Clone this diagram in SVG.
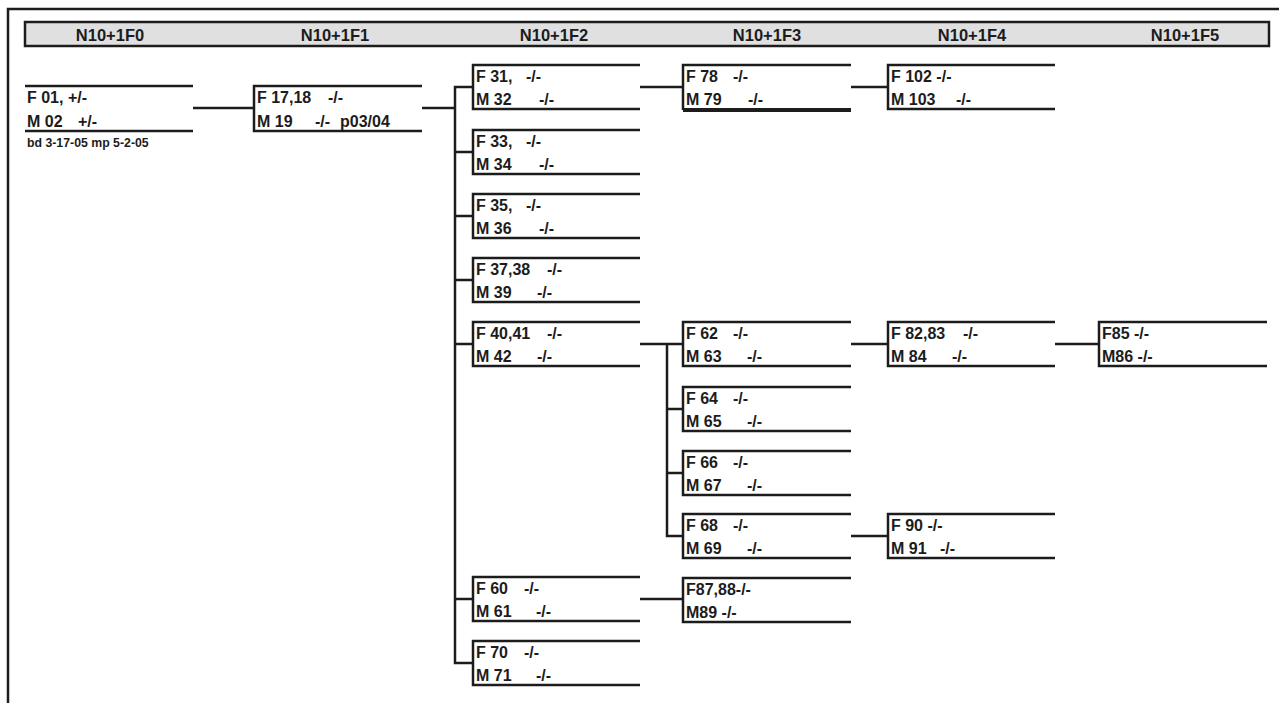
<svg xmlns="http://www.w3.org/2000/svg" width="1279" height="703" viewBox="0 0 1279 703">
<style>
.ln{fill:none;stroke:#1c1c1c;stroke-width:2.5}
.hd{font-family:"Liberation Sans",Arial,sans-serif;font-weight:bold;font-size:16.5px;fill:#1c1c1c;text-anchor:middle}
.t{font-family:"Liberation Sans",Arial,sans-serif;font-weight:bold;font-size:16px;fill:#1c1c1c}
.note{font-family:"Liberation Sans",Arial,sans-serif;font-weight:bold;font-size:12.3px;fill:#1c1c1c}
</style>
<rect x="0" y="0" width="1279" height="703" fill="#ffffff"/>
<g id="frame">
<path class="ln" d="M8,703 V9 H1279"/>
</g>
<g id="header">
<rect x="25" y="22" width="1244" height="24" fill="#e0e0e0" stroke="#1c1c1c" stroke-width="2.5"/>
<text class="hd" x="110" y="40.5">N10+1F0</text>
<text class="hd" x="335" y="40.5">N10+1F1</text>
<text class="hd" x="554" y="40.5">N10+1F2</text>
<text class="hd" x="767" y="40.5">N10+1F3</text>
<text class="hd" x="972" y="40.5">N10+1F4</text>
<text class="hd" x="1185" y="40.5">N10+1F5</text>
</g>
<g id="connectors" class="ln">
<path d="M193,108 H254"/>
<path d="M422,108 H455"/>
<path d="M473,87 H455 V663 H473"/>
<path d="M455,152 H473 M455,216 H473 M455,280 H473 M455,344 H473 M455,599 H473"/>
<path d="M640,87 H683"/>
<path d="M851,87 H888"/>
<path d="M640,344 H683"/>
<path d="M667,344 V536 H683 M667,409 H683 M667,473 H683"/>
<path d="M851,344 H888"/>
<path d="M1055,344 H1099"/>
<path d="M851,536 H888"/>
<path d="M640,599 H683"/>
</g>
<g id="n-f01">
<path class="ln" d="M25,86 H193 M25,131 H193"/>
<text class="t" x="27" y="103">F 01,<tspan x="68">+/-</tspan></text>
<text class="t" x="27" y="126.5">M 02<tspan x="78">+/-</tspan></text>
<text class="note" x="27" y="147">bd 3-17-05 mp 5-2-05</text>
</g>
<g id="n-f17">
<path class="ln" d="M422,86 H254 V131 H422"/>
<text class="t" x="257" y="103">F 17,18<tspan x="328">-/-</tspan></text>
<text class="t" x="257" y="126.5">M 19<tspan x="315">-/-</tspan><tspan x="340">p03/04</tspan></text>
</g>
<g id="n-f31">
<path class="ln" d="M640,65 H473 V109 H640"/>
<text class="t" x="476" y="81.5">F 31,<tspan x="526">-/-</tspan></text>
<text class="t" x="476" y="104.5">M 32<tspan x="539">-/-</tspan></text>
</g>
<g id="n-f33">
<path class="ln" d="M640,130 H473 V174 H640"/>
<text class="t" x="476" y="146.5">F 33,<tspan x="526">-/-</tspan></text>
<text class="t" x="476" y="169.5">M 34<tspan x="539">-/-</tspan></text>
</g>
<g id="n-f35">
<path class="ln" d="M640,194 H473 V238 H640"/>
<text class="t" x="476" y="210.5">F 35,<tspan x="526">-/-</tspan></text>
<text class="t" x="476" y="233.5">M 36<tspan x="539">-/-</tspan></text>
</g>
<g id="n-f37">
<path class="ln" d="M640,258 H473 V302 H640"/>
<text class="t" x="476" y="274.5">F 37,38<tspan x="547">-/-</tspan></text>
<text class="t" x="476" y="297.5">M 39<tspan x="537">-/-</tspan></text>
</g>
<g id="n-f40">
<path class="ln" d="M640,322 H473 V366 H640"/>
<text class="t" x="476" y="338.5">F 40,41<tspan x="547">-/-</tspan></text>
<text class="t" x="476" y="361.5">M 42<tspan x="537">-/-</tspan></text>
</g>
<g id="n-f60">
<path class="ln" d="M640,577 H473 V621 H640"/>
<text class="t" x="476" y="593.5">F 60<tspan x="524">-/-</tspan></text>
<text class="t" x="476" y="616.5">M 61<tspan x="536">-/-</tspan></text>
</g>
<g id="n-f70">
<path class="ln" d="M640,641 H473 V685 H640"/>
<text class="t" x="476" y="657.5">F 70<tspan x="524">-/-</tspan></text>
<text class="t" x="476" y="680.5">M 71<tspan x="536">-/-</tspan></text>
</g>
<g id="n-f78">
<path class="ln" d="M851,65 H683 V110"/>
<path fill="none" stroke="#1c1c1c" stroke-width="4" d="M683,110 H851"/>
<text class="t" x="686" y="81.5">F 78<tspan x="733">-/-</tspan></text>
<text class="t" x="686" y="104.5">M 79<tspan x="748">-/-</tspan></text>
</g>
<g id="n-f102">
<path class="ln" d="M1055,65 H888 V109 H1055"/>
<text class="t" x="891" y="81.5">F 102 -/-</text>
<text class="t" x="891" y="104.5">M 103<tspan x="956">-/-</tspan></text>
</g>
<g id="n-f62">
<path class="ln" d="M851,322 H683 V366 H851"/>
<text class="t" x="686" y="338.5">F 62<tspan x="733">-/-</tspan></text>
<text class="t" x="686" y="361.5">M 63<tspan x="747">-/-</tspan></text>
</g>
<g id="n-f64">
<path class="ln" d="M851,387 H683 V431 H851"/>
<text class="t" x="686" y="403.5">F 64<tspan x="733">-/-</tspan></text>
<text class="t" x="686" y="426.5">M 65<tspan x="747">-/-</tspan></text>
</g>
<g id="n-f66">
<path class="ln" d="M851,451 H683 V495 H851"/>
<text class="t" x="686" y="467.5">F 66<tspan x="733">-/-</tspan></text>
<text class="t" x="686" y="490.5">M 67<tspan x="747">-/-</tspan></text>
</g>
<g id="n-f68">
<path class="ln" d="M851,514 H683 V558 H851"/>
<text class="t" x="686" y="530.5">F 68<tspan x="733">-/-</tspan></text>
<text class="t" x="686" y="553.5">M 69<tspan x="747">-/-</tspan></text>
</g>
<g id="n-f87">
<path class="ln" d="M851,578 H683 V622 H851"/>
<text class="t" x="686" y="594.5">F87,88-/-</text>
<text class="t" x="686" y="617.5">M89 -/-</text>
</g>
<g id="n-f82">
<path class="ln" d="M1055,322 H888 V366 H1055"/>
<text class="t" x="891" y="338.5">F 82,83<tspan x="963">-/-</tspan></text>
<text class="t" x="891" y="361.5">M 84<tspan x="952">-/-</tspan></text>
</g>
<g id="n-f90">
<path class="ln" d="M1055,514 H888 V558 H1055"/>
<text class="t" x="891" y="530.5">F 90 -/-</text>
<text class="t" x="891" y="553.5">M 91<tspan x="940">-/-</tspan></text>
</g>
<g id="n-f85">
<path class="ln" d="M1267,322 H1099 V366 H1267"/>
<text class="t" x="1102" y="338.5">F85 -/-</text>
<text class="t" x="1102" y="361.5">M86 -/-</text>
</g>
</svg>
